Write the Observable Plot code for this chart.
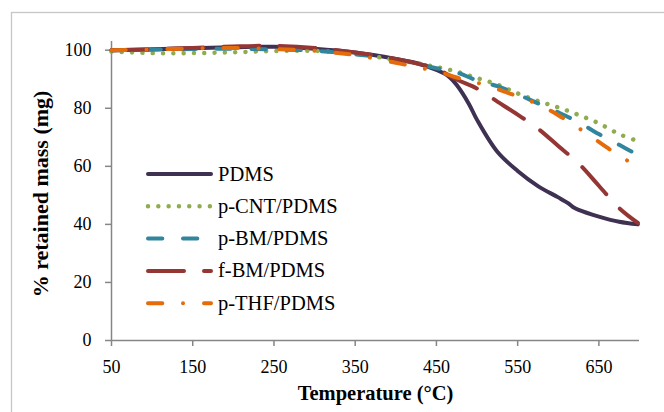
<!DOCTYPE html>
<html>
<head>
<meta charset="utf-8">
<script src="https://cdn.jsdelivr.net/npm/d3@7"></script>
<script src="https://cdn.jsdelivr.net/npm/@observablehq/plot@0.6"></script>
<style>
  html, body { margin: 0; padding: 0; background: #fff; }
  #chart { width: 664px; height: 412px; }
</style>
</head>
<body>
<div id="chart"></div>
<script>
// ---- data ----
const seriesNames = ["PDMS", "p-CNT/PDMS", "p-BM/PDMS", "f-BM/PDMS", "p-THF/PDMS"];
const temps = [50,100,150,200,250,300,350,400,425,450,475,500,525,550,575,600,625,650,675,698];
const pdmsTemps = [50,100,150,200,250,300,350,400,425,450,465,475,490,500,525,550,575,600,612,618,625,650,675,698];
const pdms = [100,100.3,100.7,101,101.2,100.5,99.2,97,95.6,93.2,91,88,81.5,76,65,58.4,53.2,49.3,47.3,46,45,42.7,40.9,40];
const pCnt = [99.5,99,99,99.3,99.7,99.8,98.8,96.6,95.6,94.2,92.6,90.4,88.2,85.1,82.5,80.3,77.7,74.8,71.1,68.7];
const pBm  = [100,100.2,100.4,100.5,100.3,99.8,98.6,96.8,95.4,93.8,92.3,89.6,87.6,84.8,81.7,78.6,75.2,71.1,67.4,63.9];
const fBm  = [100,100.3,100.8,101.3,101.5,100.8,99.2,97,95.5,93.6,89.9,86.8,82.3,77.8,73,67,61,53.3,45.6,40.5];
const pThf = [100,100.3,100.6,100.8,100.4,99.8,98.3,95.7,94.2,92.8,90.6,88.8,86.6,84.1,81.4,77.6,73.2,68.4,63.6,60];
const xTicks = [50,150,250,350,450,550,650];
const yTicks = [0,20,40,60,80,100];

// ---- styles ----
const colors = ["#3f3151", "#8fad50", "#31859c", "#943634", "#e46c0a"];
const dashes = [null, "0.01 10.3", "14.3 20.7", "36 20", "14.3 20.7 0.01 21"];
const FONT = "'Liberation Serif', 'Times New Roman', serif";

const table = [];
const valueSets = [pdms, pCnt, pBm, fBm, pThf];
valueSets.forEach((vals, i) => {
  const ts = i === 0 ? pdmsTemps : temps;
  vals.forEach((v, j) => table.push({series: seriesNames[i], t: ts[j], v}));
});

const lineMarks = seriesNames.map((name, i) =>
  Plot.line(table.filter(d => d.series === name), {
    x: "t", y: "v",
    stroke: colors[i],
    strokeWidth: i === 1 ? 4.5 : 4,
    strokeDasharray: dashes[i] || undefined,
    strokeLinecap: "round",
    strokeLinejoin: "round",
    curve: "catmull-rom"
  })
);

const chart = Plot.plot({
  width: 664,
  height: 412,
  marginLeft: 111,
  marginRight: 25,
  marginTop: 41,
  marginBottom: 72,
  style: {fontFamily: FONT, fontSize: "18px", color: "#000", background: "#fff"},
  x: {domain: [50, 700]},
  y: {domain: [0, 103]},
  marks: [
    Plot.axisX({ticks: xTicks, tickSize: 6, tickPadding: 14, stroke: "#868686", strokeWidth: 1.5, label: null, fill: "#000", tickFormat: d => String(d)}),
    Plot.axisY({ticks: yTicks, tickSize: 6, tickPadding: 14, stroke: "#868686", strokeWidth: 1.5, label: null, fill: "#000"}),
    Plot.ruleX([50], {stroke: "#868686", strokeWidth: 1.5}),
    Plot.ruleY([0], {stroke: "#868686", strokeWidth: 1.5}),
    ...lineMarks,
    Plot.text(["Temperature (°C)"], {frameAnchor: "bottom", dy: 59, fontWeight: "bold", fontSize: 20.5, fill: "#000", textAnchor: "middle"}),
    Plot.text(["% retained mass (mg)"], {frameAnchor: "left", dx: -71, dy: 3, rotate: -90, fontWeight: "bold", fontSize: 22, fill: "#000", textAnchor: "middle"})
  ]
});

// outer chart-area border
const svg = d3.select(chart);
svg.insert("rect", ":first-child")
  .attr("x", 11.5).attr("y", 12.5).attr("width", 700).attr("height", 500)
  .attr("fill", "none").attr("stroke", "#c6c6c6").attr("stroke-width", 1.3);

// legend inside the plot area
const lg = svg.append("g").attr("text-anchor", "start");
seriesNames.forEach((name, i) => {
  const y = 174 + i * 32.3;
  lg.append("line")
    .attr("x1", 148).attr("x2", 211).attr("y1", y).attr("y2", y)
    .attr("stroke", colors[i]).attr("stroke-width", i === 1 ? 4.5 : 4)
    .attr("stroke-linecap", "round")
    .attr("stroke-dasharray", dashes[i]);
  lg.append("text")
    .attr("x", 218).attr("y", y + 6.5)
    .attr("text-anchor", "start")
    .attr("font-family", FONT).attr("font-size", 20.5).attr("fill", "#000")
    .text(name);
});

document.getElementById("chart").appendChild(chart);
</script>
</body>
</html>
